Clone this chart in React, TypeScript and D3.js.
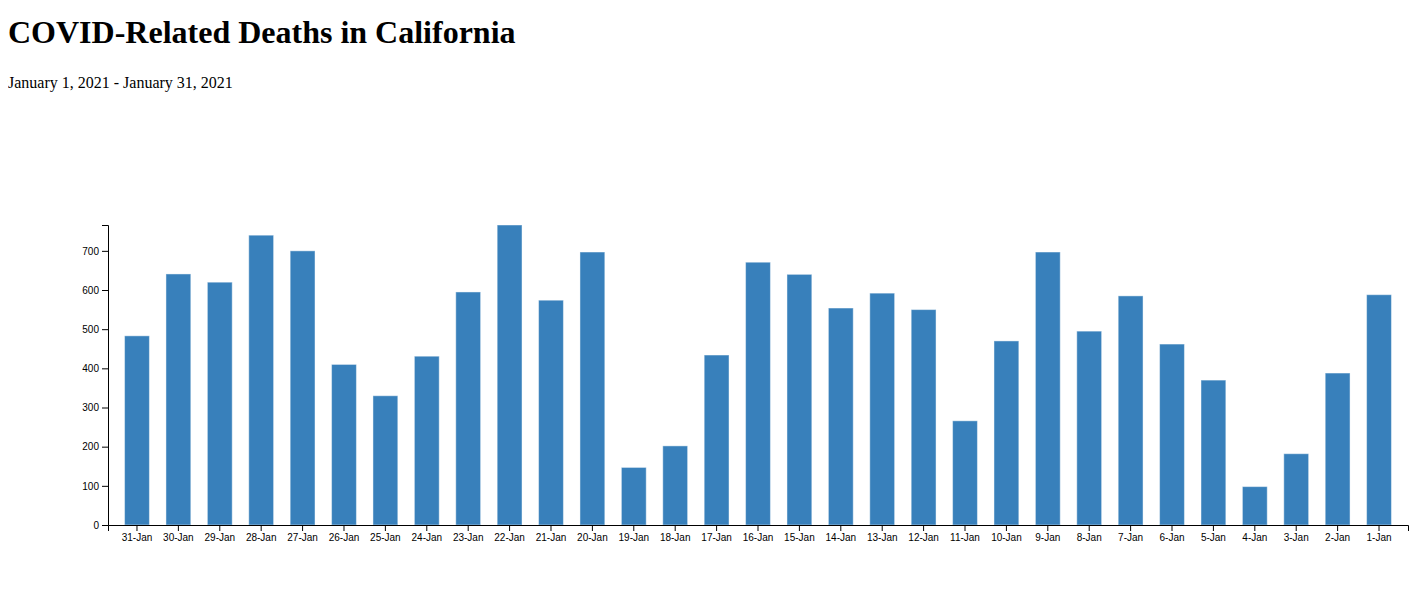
import React, { useEffect, useRef } from "react";
import * as d3 from "d3";

// Data (display order, newest first)
const days = [
  "31-Jan", "30-Jan", "29-Jan", "28-Jan", "27-Jan", "26-Jan", "25-Jan", "24-Jan",
  "23-Jan", "22-Jan", "21-Jan", "20-Jan", "19-Jan", "18-Jan", "17-Jan", "16-Jan",
  "15-Jan", "14-Jan", "13-Jan", "12-Jan", "11-Jan", "10-Jan", "9-Jan", "8-Jan",
  "7-Jan", "6-Jan", "5-Jan", "4-Jan", "3-Jan", "2-Jan", "1-Jan",
];
const deaths = [
  483, 641, 620, 740, 700, 410, 330, 431,
  595, 766, 574, 697, 147, 202, 434, 671,
  640, 554, 592, 550, 266, 470, 697, 495,
  585, 462, 370, 98, 182, 388, 588,
];

// Dimensions
const margin = { top: 117, right: 9, bottom: 40, left: 100 };
const width = 1409 - margin.left - margin.right;
const height = 300;

const App = () => {
  const chartRef = useRef<SVGSVGElement | null>(null);

  useEffect(() => {
    if (!chartRef.current) return;

    const root = d3.select(chartRef.current);
    root.selectAll("*").remove();

    const svg = root
      .append("g")
      .attr("transform", `translate(${margin.left}, ${margin.top})`);

    const data = days.map((d, i) => ({ day: d, value: deaths[i] }));

    // X scale
    const x = d3.scaleBand().domain(days).range([0, width]).padding(0.4);

    // Y scale
    const y = d3
      .scaleLinear()
      .domain([0, d3.max(deaths) as number])
      .range([height, 0]);

    // Bars
    svg
      .selectAll("rect")
      .data(data)
      .join("rect")
      .attr("x", (d) => x(d.day) as number)
      .attr("y", (d) => y(d.value))
      .attr("width", x.bandwidth())
      .attr("height", (d) => height - y(d.value))
      .attr("fill", "#3880bb")
      .attr("stroke", "rgba(255,255,255,0.45)")
      .attr("stroke-width", 1);

    // X axis
    svg
      .append("g")
      .attr("transform", `translate(0, ${height})`)
      .call(d3.axisBottom(x))
      .attr("font-family", "'Liberation Sans', Arial, sans-serif");

    // Y axis
    svg
      .append("g")
      .call(d3.axisLeft(y))
      .attr("font-family", "'Liberation Sans', Arial, sans-serif");
  }, []);

  return (
    <div>
      <h1 style={{ marginTop: 6, marginBottom: 23 }}>
        COVID-Related Deaths in California
      </h1>
      <p>January 1, 2021 - January 31, 2021</p>
      <svg
        ref={chartRef}
        width={width + margin.left + margin.right}
        height={height + margin.top + margin.bottom}
        style={{ display: "block" }}
      />
    </div>
  );
};

export default App;
